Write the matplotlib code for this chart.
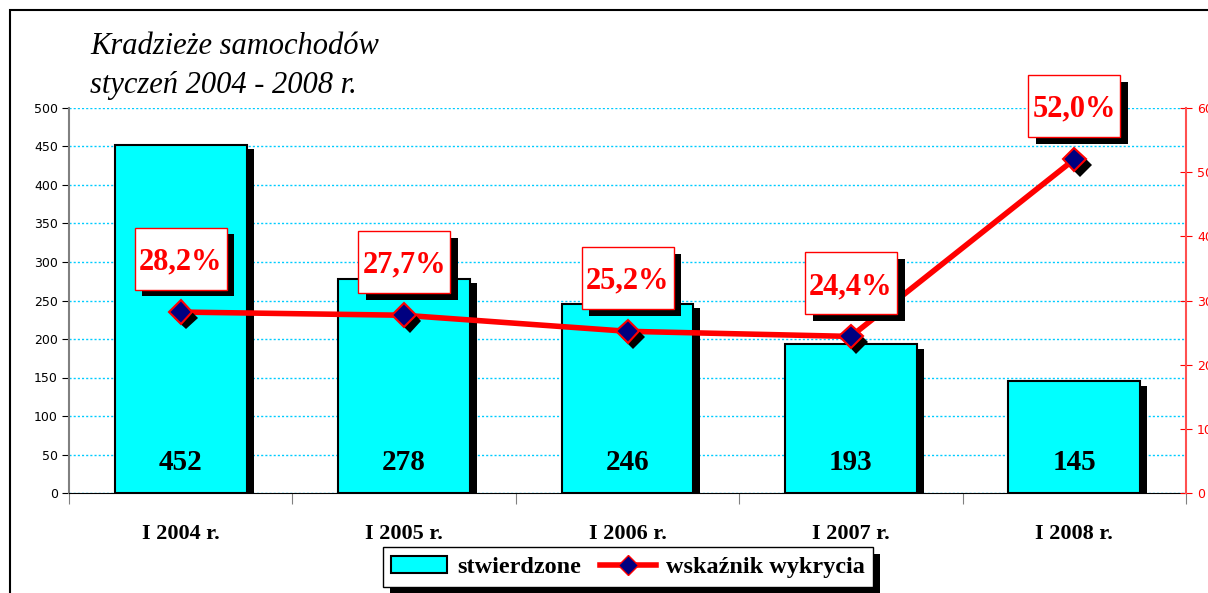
import matplotlib.pyplot as plt
import matplotlib.patheffects as mpe
import matplotlib.transforms as mtrans
from matplotlib.patches import Rectangle, Patch
from matplotlib.lines import Line2D
import numpy as np

categories = ['I 2004 r.', 'I 2005 r.', 'I 2006 r.', 'I 2007 r.', 'I 2008 r.']
stwierdzone = [452, 278, 246, 193, 145]
wskaznik = [28.2, 27.7, 25.2, 24.4, 52.0]

serif = 'Liberation Serif'
W, H = 1208, 593
fig = plt.figure(figsize=(W / 100, H / 100), dpi=100)
ax = fig.add_axes([69 / W, 100 / H, (1186 - 69) / W, 385 / H])
ax2 = ax.twinx()

x = np.arange(len(categories))

# outer frame of the chart area
fig.patches.append(Rectangle((10 / W, -0.2), 2, 583 / H + 0.2, transform=fig.transFigure,
                             fill=False, edgecolor='black', lw=1.5))

bar_shadow = [mpe.SimplePatchShadow(offset=(5, -3), shadow_rgbFace='black', alpha=1), mpe.Normal()]
bars = ax.bar(x, stwierdzone, width=0.59, color='#00FFFF', edgecolor='black', lw=1.5, zorder=2)
for b in bars:
    b.set_path_effects(bar_shadow)
for i, v in enumerate(stwierdzone):
    ax.annotate(str(v), xy=(i, 0), xytext=(0, 22), textcoords='offset points',
                ha='center', va='center', fontsize=21, fontweight='bold', family=serif, zorder=3)

ax.set_xlim(-0.5, 4.5)
ax.set_ylim(0, 500)
ax.set_yticks(np.arange(0, 501, 50))
ax.tick_params(axis='y', labelsize=9, length=5, color='black', pad=3)
ax.set_axisbelow(True)
ax.yaxis.grid(True, color='#00CCFF', linestyle=(0, (1.5, 1.5)), lw=1)

ax.set_xticks(np.arange(-0.5, 5, 1))
ax.set_xticklabels([])
ax.tick_params(axis='x', which='major', length=8, color='#808080', direction='out')
ax.set_xticks(x, minor=True)
ax.set_xticklabels(categories, minor=True, fontsize=16, fontweight='bold', family=serif)
ax.tick_params(axis='x', which='minor', length=0, pad=22)

ax.spines['top'].set_visible(False)
ax.spines['right'].set_visible(False)
ax.spines['left'].set_color('#808080')
ax.spines['left'].set_linewidth(1.5)
ax.spines['bottom'].set_color('black')

# right axis labels run off the image edge, as in the original
ax2.set_ylim(0, 60)
ax2.set_yticks(np.arange(0, 61, 10))
ax2.tick_params(axis='y', colors='red', labelsize=9, direction='inout', length=8, pad=4)
for s in ['top', 'left', 'bottom']:
    ax2.spines[s].set_visible(False)
ax2.spines['right'].set_color('#FF5050')
ax2.spines['right'].set_linewidth(1.5)

ax2.plot(x, wskaznik, color='red', lw=4, zorder=3, solid_capstyle='butt')
mk = ax2.plot(x, wskaznik, linestyle='none', marker='D', markersize=12, markerfacecolor='#000080',
              markeredgecolor='red', markeredgewidth=1.5, zorder=4)[0]
mk.set_path_effects([mpe.SimplePatchShadow(offset=(4, -4), shadow_rgbFace='black', alpha=1), mpe.Normal()])

box_shadow = [mpe.SimplePatchShadow(offset=(5.5, -4.5), shadow_rgbFace='black', alpha=1), mpe.Normal()]
for i, v in enumerate(wskaznik):
    tr = fig.dpi_scale_trans + mtrans.ScaledTranslation(i, v, ax2.transData)
    r = Rectangle((-0.46, 0.53 - 0.31), 0.92, 0.62, transform=tr, facecolor='white',
                  edgecolor='red', lw=1, clip_on=False, zorder=5)
    r.set_path_effects(box_shadow)
    ax2.add_patch(r)
    ax2.annotate(f'{v:.1f}%'.replace('.', ','), xy=(i, v), xytext=(0, 36), textcoords='offset points',
                 ha='center', va='center', color='red', fontsize=22, fontweight='bold',
                 family=serif, zorder=6, annotation_clip=False)

fig.text(90 / W, 1 - 46 / H, 'Kradzieże samochodów', style='italic', family=serif,
         fontsize=22, va='center')
fig.text(90 / W, 1 - 85 / H, 'styczeń 2004 - 2008 r.', style='italic', family=serif,
         fontsize=22, va='center')

handles = [Patch(facecolor='#00FFFF', edgecolor='black', lw=1.5),
           Line2D([], [], color='red', lw=4, marker='D', markersize=10,
                  markerfacecolor='#000080', markeredgecolor='red')]
leg = fig.legend(handles, ['stwierdzone', 'wskaźnik wykrycia'], loc='center',
                 bbox_to_anchor=(628 / W, 26 / H), ncol=2, frameon=True, fancybox=False,
                 edgecolor='black', framealpha=1, handlelength=2.3, handletextpad=0.4,
                 columnspacing=0.8, borderpad=0.35,
                 prop={'family': serif, 'weight': 'bold', 'size': 17.5})
leg.get_frame().set_linewidth(1)
leg.get_frame().set_path_effects([mpe.SimplePatchShadow(offset=(5, -5), shadow_rgbFace='black', alpha=1),
                                  mpe.Normal()])

fig.savefig('out.png', dpi=100)
